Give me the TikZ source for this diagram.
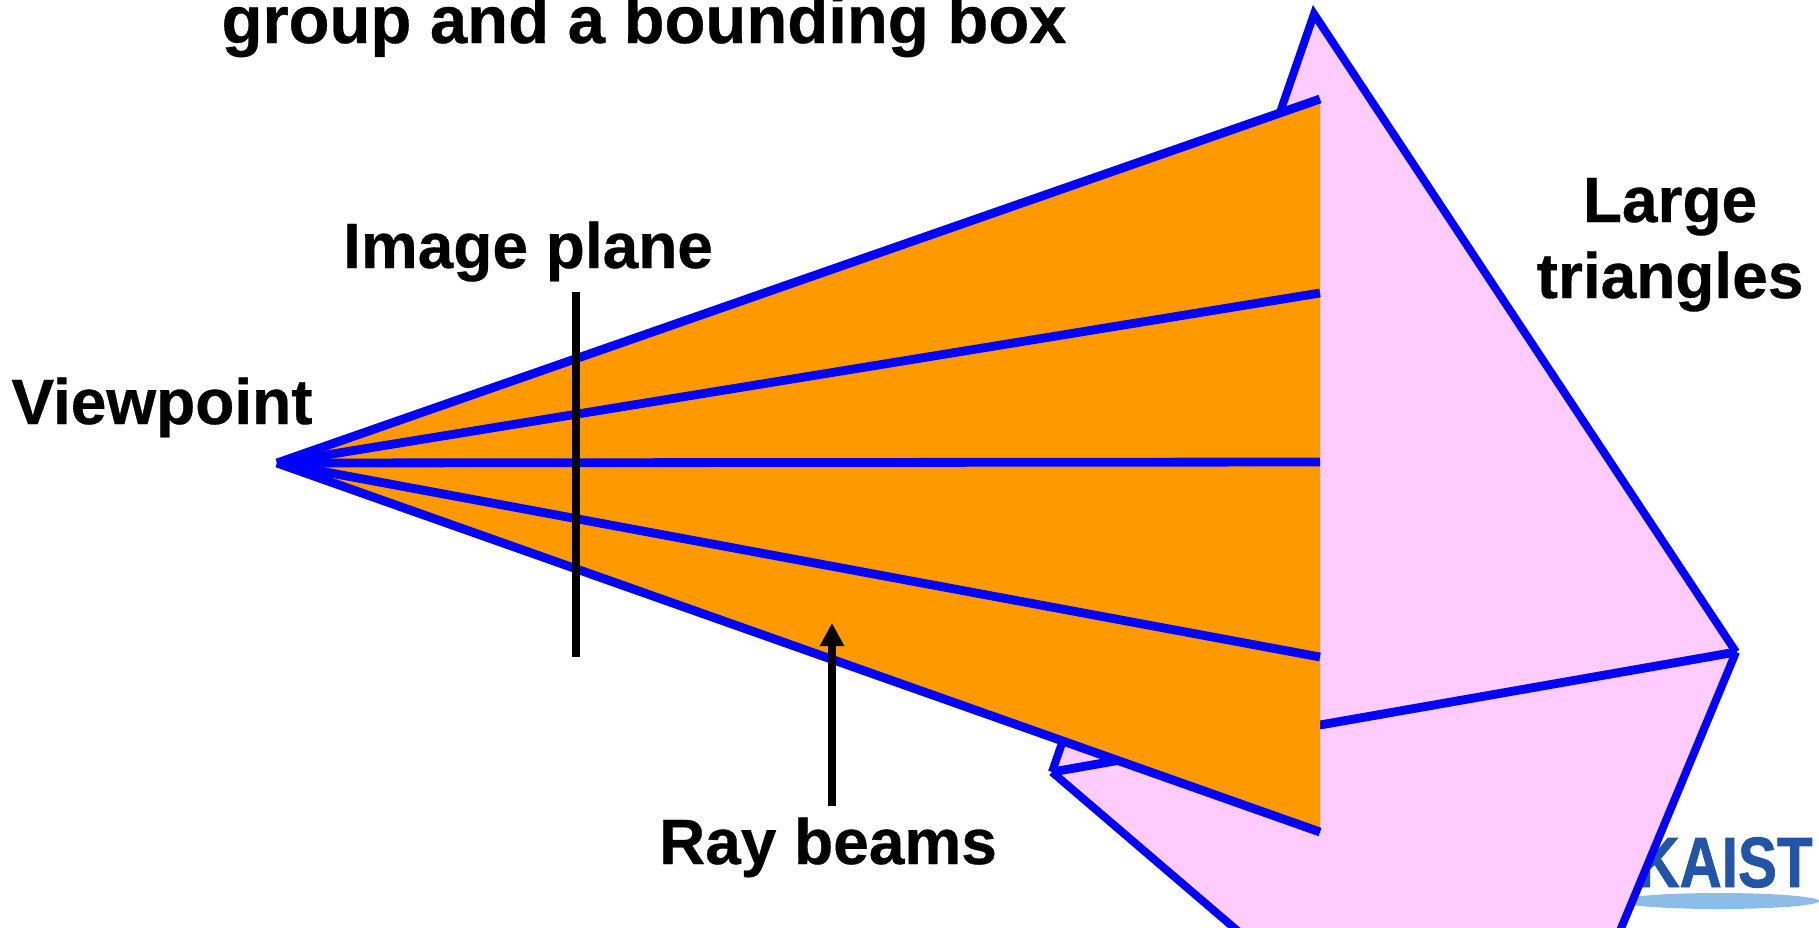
\documentclass[tikz,border=0pt]{standalone}
\usepackage{fontspec}
\setmainfont{Liberation Sans}
\usetikzlibrary{arrows.meta}
\definecolor{beamorange}{HTML}{FF9900}
\definecolor{tripink}{HTML}{FFCCFF}
\definecolor{kaistblue}{HTML}{2255A5}
\definecolor{kaistlight}{HTML}{8DBDE6}
\tikzset{
  x=0.5pt,y=-0.5pt,
  ray/.style={draw=blue,line width=4.4pt},
  edge/.style={draw=blue,line width=4pt,line join=miter,line cap=square},
  lab/.style={font=\bfseries\addfontfeature{FakeBold=0.5}\fontsize{32}{38}\selectfont,text=black,inner sep=0pt,align=center},
}
\begin{document}
\begin{tikzpicture}
\useasboundingbox (0,0) rectangle (1819,927);
\clip (0,0) rectangle (1819,927);
\coordinate (apex) at (277,463);
\coordinate (e1) at (1320,99);
\coordinate (e2) at (1320,293);
\coordinate (e3) at (1320,462);
\coordinate (e4) at (1320,657);
\coordinate (e5) at (1320,832);
\coordinate (tTop) at (1314,14);
\coordinate (tRight) at (1736,652);
\coordinate (tLeft) at (1052,772);
\coordinate (bL) at (1260,950);
\coordinate (bR) at (1612,950);
% logo
\fill[kaistlight] (1719,901) ellipse [x radius=100,y radius=8];
\node[inner sep=0pt,text=kaistblue,font=\bfseries\addfontfeature{FakeBold=1.2}\fontsize{35.6}{36}\selectfont,anchor=base east] (logo) at (1813,887) {\scalebox{.82}[1]{KAIST}};
% triangles
\fill[tripink] (tTop) -- (tRight) -- (tLeft) -- cycle;
\fill[tripink] (tLeft) -- (tRight) -- (bR) -- (bL) -- cycle;
\draw[edge] (tLeft) -- (tTop) -- (tRight);
\draw[edge] (tRight) -- (bR);
\draw[edge] (tLeft) -- (bL);
\draw[edge,line width=4.4pt] (tLeft) -- (tRight);
% beam
\fill[beamorange] (apex) -- (e1) -- (e5) -- cycle;
\foreach \e in {e1,e2,e3,e4,e5} \draw[ray] (apex) -- (\e);
% image plane
\coordinate (p1) at (576,292);
\coordinate (p2) at (576,657);
\draw[black,line width=4pt] (p1) -- (p2);
% arrow
\coordinate (a1) at (832,806);
\coordinate (a2) at (832,623);
\draw[black,line width=4pt,-{Triangle[length=11.5pt,width=11.5pt]}] (a1) -- (a2);
% labels
\node[lab,anchor=base,font=\bfseries\addfontfeature{FakeBold=0.5}\fontsize{33.5}{38}\selectfont] (title) at (644,43) {group and a bounding box};
\node[lab,anchor=base] (plane) at (528,268) {Image plane};
\node[lab,anchor=base] (view) at (162,424) {Viewpoint};
\node[lab,anchor=base] (large) at (1670,222) {Large};
\node[lab,anchor=base] (tris) at (1670,298) {triangles};
\node[lab,anchor=base] (rayb) at (828,864) {Ray beams};
\end{tikzpicture}
\end{document}
